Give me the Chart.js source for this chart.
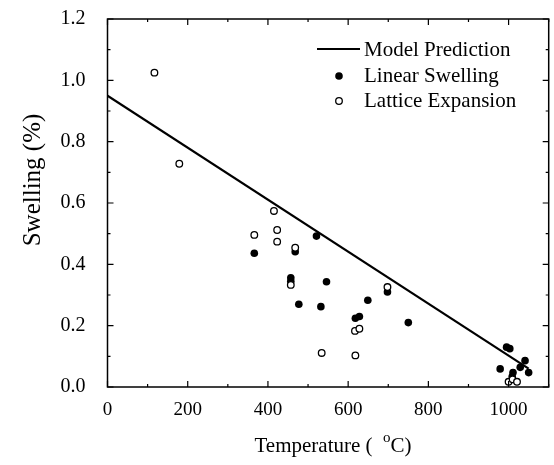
<!DOCTYPE html>
<html>
<head>
<meta charset="utf-8">
<script src="https://cdn.jsdelivr.net/npm/chart.js@4/dist/chart.umd.min.js"></script>
<style>
  html, body { margin: 0; padding: 0; background: #fff; }
  #wrap { width: 554px; height: 465px; }
</style>
</head>
<body>
<div id="wrap"><canvas id="swellChart" width="554" height="465"></canvas></div>
<script>
// model line (two end points of the straight line)
const modelTemp = [0, 1050];
const modelSwell = [0.95, 0.06];

// linear swelling (filled circles)
const linearTemp = [366, 457, 457, 468, 477, 521, 532, 546, 618, 628, 649, 698, 750, 979, 995, 1003, 1009, 1011, 1029, 1041, 1050];
const linearSwell = [0.436, 0.356, 0.345, 0.441, 0.27, 0.492, 0.262, 0.343, 0.224, 0.23, 0.283, 0.31, 0.21, 0.059, 0.13, 0.125, 0.034, 0.047, 0.064, 0.086, 0.047];

// lattice expansion (open circles)
const latticeTemp = [117, 179, 366, 415, 423, 423, 457, 468, 534, 617, 628, 618, 698, 1000, 1010, 1021];
const latticeSwell = [1.025, 0.728, 0.496, 0.574, 0.512, 0.474, 0.333, 0.454, 0.111, 0.183, 0.19, 0.103, 0.326, 0.017, 0.025, 0.017];

const xTicks = [0, 200, 400, 600, 800, 1000];
const yTicks = [0, 0.2, 0.4, 0.6, 0.8, 1.0, 1.2];

const serif = "'Liberation Serif', 'DejaVu Serif', serif";

function toPoints(xs, ys) {
    return xs.map((x, i) => ({ x: x, y: ys[i] }));
}

// box around the plot with inward ticks on all four sides
const framePlugin = {
    id: "frame",
    afterDatasetsDraw(chart) {
        const ctx = chart.ctx;
        const a = chart.chartArea;
        const xs = chart.scales.x;
        const ys = chart.scales.y;
        ctx.save();
        ctx.strokeStyle = "#000";
        ctx.lineWidth = 1.5;
        ctx.strokeRect(a.left, a.top, a.right - a.left, a.bottom - a.top);
        ctx.lineWidth = 1.2;
        ctx.beginPath();
        for (let v = 0; v <= 1100; v += 100) {
            const px = xs.getPixelForValue(v);
            const len = v % 200 === 0 ? 6 : 3;
            ctx.moveTo(px, a.bottom); ctx.lineTo(px, a.bottom - len);
            ctx.moveTo(px, a.top); ctx.lineTo(px, a.top + len);
        }
        for (let k = 0; k <= 12; k++) {
            const py = ys.getPixelForValue(k / 10);
            const len = k % 2 === 0 ? 6 : 3;
            ctx.moveTo(a.left, py); ctx.lineTo(a.left + len, py);
            ctx.moveTo(a.right, py); ctx.lineTo(a.right - len, py);
        }
        ctx.stroke();

        // axis titles
        ctx.fillStyle = "#000";
        ctx.font = "25px " + serif;
        ctx.textBaseline = "middle";
        ctx.save();
        ctx.translate(33, 180);
        ctx.rotate(-Math.PI / 2);
        ctx.textAlign = "center";
        ctx.fillText("Swelling (%)", 0, 0);
        ctx.restore();

        ctx.textAlign = "left";
        ctx.font = "21px " + serif;
        const part1 = "Temperature (  ";
        const w1 = ctx.measureText(part1).width;
        ctx.font = "15px " + serif;
        const wo = ctx.measureText("o").width;
        ctx.font = "21px " + serif;
        const w2 = ctx.measureText("C)").width;
        let tx = 333 - (w1 + wo + w2) / 2;
        ctx.fillText(part1, tx, 446);
        ctx.font = "15px " + serif;
        ctx.fillText("o", tx + w1, 438);
        ctx.font = "21px " + serif;
        ctx.fillText("C)", tx + w1 + wo, 446);

        // legend
        ctx.font = "21px " + serif;
        const sets = chart.data.datasets;
        ctx.lineWidth = 2.2;
        ctx.beginPath();
        ctx.moveTo(317, 49); ctx.lineTo(360, 49);
        ctx.stroke();
        ctx.fillText(sets[0].label, 364, 50);
        ctx.beginPath();
        ctx.arc(339, 76, 3.8, 0, Math.PI * 2);
        ctx.fill();
        ctx.fillText(sets[1].label, 364, 76);
        ctx.lineWidth = 1.3;
        ctx.beginPath();
        ctx.arc(339, 101, 3.3, 0, Math.PI * 2);
        ctx.stroke();
        ctx.fillText(sets[2].label, 364, 101);
        ctx.restore();
    }
};

const ctx = document.getElementById("swellChart").getContext("2d");
new Chart(ctx, {
    type: "scatter",
    data: {
        datasets: [
            {
                label: "Model Prediction",
                type: "line",
                data: toPoints(modelTemp, modelSwell),
                borderColor: "#000",
                borderWidth: 2.2,
                pointRadius: 0,
                fill: false,
                order: 3
            },
            {
                label: "Linear Swelling",
                data: toPoints(linearTemp, linearSwell),
                backgroundColor: "#000",
                borderColor: "#000",
                borderWidth: 0,
                pointRadius: 3.8,
                order: 2
            },
            {
                label: "Lattice Expansion",
                data: toPoints(latticeTemp, latticeSwell),
                backgroundColor: "#fff",
                borderColor: "#000",
                borderWidth: 1.3,
                pointRadius: 3.3,
                order: 1
            }
        ]
    },
    options: {
        responsive: false,
        animation: false,
        layout: { padding: { left: 0, right: 4, top: 19, bottom: 0 } },
        plugins: {
            legend: { display: false },
            tooltip: { enabled: false }
        },
        scales: {
            x: {
                type: "linear",
                min: 0,
                max: 1100,
                grid: { display: false },
                border: { display: false },
                afterBuildTicks: s => { s.ticks = xTicks.map(v => ({ value: v })); },
                afterFit: s => {
                    s.height = 78;
                    s.paddingLeft = 0;
                    s.paddingRight = 0;
                },
                ticks: {
                    font: { family: serif, size: 19 },
                    color: "#000",
                    padding: 4,
                    maxRotation: 0,
                    callback: v => String(v)
                }
            },
            y: {
                type: "linear",
                min: 0,
                max: 1.2,
                grid: { display: false },
                border: { display: false },
                afterBuildTicks: s => { s.ticks = yTicks.map(v => ({ value: v })); },
                afterFit: s => {
                    s.width = 107.5;
                    s.paddingTop = 0;
                    s.paddingBottom = 0;
                },
                ticks: {
                    font: { family: serif, size: 20 },
                    color: "#000",
                    padding: 14,
                    callback: v => Number(v).toFixed(1)
                }
            }
        }
    },
    plugins: [framePlugin]
});
</script>
</body>
</html>
